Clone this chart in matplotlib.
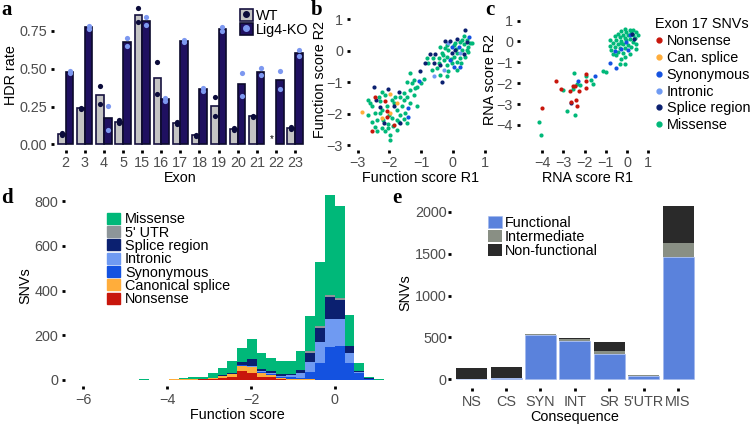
import numpy as np
import matplotlib.pyplot as plt
from matplotlib.patches import Patch
from matplotlib.lines import Line2D

plt.rcParams['font.family'] = ['Liberation Sans', 'DejaVu Sans']

# ---------------- data ----------------
# a: HDR rate per exon, two replicates (WT has no data for exon 22)
exons = ['2', '3', '4', '5', '15', '16', '17', '18', '19', '20', '21', '22', '23']
wt_rep1 = [0.073, 0.240, 0.386, 0.161, 0.900, 0.547, 0.148, 0.062, 0.315, 0.110, 0.190, np.nan, 0.117]
wt_rep2 = [0.062, 0.234, 0.265, 0.139, 0.812, 0.333, 0.137, 0.055, 0.190, 0.095, 0.180, np.nan, 0.100]
ko_rep1 = [0.485, 0.785, 0.254, 0.706, 0.840, 0.309, 0.693, 0.375, 0.774, 0.474, 0.503, 0.488, 0.624]
ko_rep2 = [0.474, 0.763, 0.097, 0.653, 0.790, 0.287, 0.677, 0.355, 0.752, 0.320, 0.459, 0.364, 0.585]

# b: function score replicate 1 vs replicate 2
b_missense = [(0.34, 0.46), (0.23, 0.28), (-0.19, 0.18), (0.02, 0.18), (0.36, 0.21), (0.55, 0.23),
              (0.28, 0.02), (0.44, 0.02), (0.13, -0.08), (0.49, -0.03), (-0.14, 0.02), (-0.35, -0.08),
              (-0.19, -0.19), (0.02, -0.21), (0.23, -0.24), (0.39, -0.19), (0.13, -0.35), (-0.29, -0.30),
              (-0.45, -0.24), (-0.03, -0.40), (-0.19, -0.45), (-0.77, -0.40), (-0.50, -0.56), (-0.14, -0.66),
              (-0.19, -0.82), (-0.40, -0.77), (-0.66, -0.61), (0.13, -0.61), (-0.24, 0.07), (-0.40, 0.13),
              (0.47, 0.13), (0.60, 0.25), (0.08, 0.25), (-0.63, -0.24), (-0.82, -0.24), (0.30, 0.35),
              (0.10, 0.05), (-0.30, -0.15), (0.45, 0.35), (-0.05, -0.25), (0.25, -0.40), (-0.45, -0.40),
              (-1.34, -0.70), (-1.24, -0.93), (-0.90, -0.91), (-1.01, -1.03), (-1.13, -1.14), (-1.29, -1.03),
              (-1.45, -1.01), (-1.66, -1.46), (-2.24, -1.30), (-2.13, -1.40), (-1.55, -1.33), (-1.34, -1.24),
              (-1.19, -1.19), (-1.24, -1.40), (-1.45, -1.46), (-2.66, -1.56), (-2.29, -1.61), (-1.92, -1.56),
              (-1.55, -1.56), (-1.34, -1.67), (-1.13, -1.77), (-2.08, -1.77), (-2.55, -1.77), (-2.66, -2.04),
              (-2.45, -1.98), (-2.24, -1.88), (-1.76, -1.88), (-1.66, -2.04), (-1.50, -1.98), (-1.92, -2.14),
              (-1.76, -2.19), (-1.55, -2.17), (-2.39, -2.19), (-2.55, -2.25), (-2.03, -2.32), (-2.24, -2.46),
              (-2.45, -2.41), (-2.03, -2.46), (-1.76, -2.51), (-2.39, -2.56), (-2.13, -2.56), (-1.97, -2.67),
              (-1.99, -2.83), (-1.71, -2.25), (-1.45, -2.30), (-2.29, -1.98), (-2.60, -1.67), (-1.82, -1.46),
              (-2.34, -1.46), (-1.85, -1.65), (-2.00, -2.05), (-1.60, -1.75), (-2.20, -2.20), (-1.90, -2.40)]
b_splice = [(0.37, 0.65), (0.13, 0.36), (0.44, 0.28), (-0.08, 0.32), (-0.24, 0.32), (0.07, 0.02),
            (-0.03, -0.08), (0.34, -0.11), (-0.40, -0.45), (-0.61, -0.40), (-0.71, -0.11), (-0.56, -0.11),
            (-0.35, -0.98), (-0.87, -0.40), (-1.05, -0.64), (-2.48, -1.14), (-2.03, -1.21), (-1.71, -1.30),
            (-2.41, -1.58), (-1.87, -1.77), (-2.29, -1.79), (-2.18, -2.30), (-1.66, -2.28)]
b_syn = [(0.52, 0.44), (0.18, 0.13), (0.02, -0.51), (0.23, -0.51), (-0.08, -0.30), (-0.03, 0.13),
         (-1.08, -0.96), (-1.40, -2.09), (-1.40, -1.82)]
b_intronic = [(-0.29, -0.61), (-0.61, -0.82), (0.21, -0.08), (-0.14, 0.25)]
b_canon = [(-1.97, -1.37), (-1.76, -1.65), (-2.87, -1.93), (-1.97, -1.98), (-2.24, -2.14)]
b_nonsense = [(-2.45, -1.46), (-2.13, -1.59), (-2.06, -1.91), (-2.08, -2.09), (-1.87, -2.35), (-2.55, -2.56)]

# c: RNA score replicate 1 vs replicate 2 (exon 17)
c_missense = [(-0.11, 0.61), (0.13, 0.56), (0.28, 0.53), (-0.27, 0.49), (-0.03, 0.45), (-0.42, 0.37),
              (-0.19, 0.33), (0.20, 0.41), (0.44, 0.45), (-0.58, 0.24), (-0.35, 0.21), (-0.11, 0.18),
              (0.13, 0.13), (0.36, 0.18), (-0.50, 0.08), (-0.27, 0.02), (-0.03, 0.05), (0.28, -0.03),
              (-0.66, -0.08), (-0.42, -0.11), (-0.19, -0.14), (0.05, -0.19), (0.44, -0.11), (-0.82, -0.24),
              (-0.58, -0.27), (-0.35, -0.32), (-0.11, -0.30), (0.20, -0.27), (-0.74, -0.43), (-0.42, -0.51),
              (-0.19, -0.56), (0.13, -0.59), (0.44, -0.35), (-0.50, -0.67), (-0.11, -0.75), (-0.82, 0.05),
              (0.52, 0.29), (-0.66, -0.59), (-0.27, -0.83), (0.05, 0.30), (-0.30, -0.10), (0.30, 0.30),
              (-0.35, -1.10), (-0.11, -1.10), (-1.13, -1.42), (-1.01, -1.47), (-1.92, -1.67), (-1.68, -1.87),
              (-1.60, -2.06), (-2.52, -1.50), (-2.23, -2.11), (-2.55, -2.26), (-3.02, -2.34), (-2.83, -3.33),
              (-2.47, -3.54), (-4.15, -3.86), (-4.04, -4.50), (-2.34, -2.06)]
c_syn = [(-0.57, -0.46), (-0.27, -0.37), (0.06, -0.43), (-0.03, -0.03), (0.16, 0.32),
         (-0.82, -1.04), (-0.53, -1.28), (-1.53, -1.64), (-2.31, -1.91)]
c_splice = [(0.25, 0.37), (0.33, 0.13), (-2.66, -2.95)]
c_intronic = []
c_canon = []
c_nonsense = [(-1.92, -1.55), (-1.92, -1.90), (-1.95, -2.25), (-2.26, -2.38), (-2.47, -2.15), (-2.55, -2.14),
              (-2.70, -2.38), (-3.13, -2.26), (-3.36, -1.90), (-2.63, -2.90), (-2.39, -2.82), (-2.36, -3.09),
              (-3.99, -3.19)]

# d: histogram of function scores (counts per bin, 32 bins)
bin_start = -6.06
bin_width = 0.233
h_nonsense = [0, 0, 0, 0, 0, 0, 0, 0, 0, 1, 2, 2, 3, 6, 10, 15, 38, 33, 15, 12, 3, 2, 1, 1, 0, 0, 0, 0, 0, 0, 0, 0]
h_canon = [0, 0, 0, 0, 0, 0, 0, 0, 0, 2, 2, 3, 3, 4, 8, 12, 24, 24, 15, 10, 7, 3, 2, 2, 2, 2, 2, 0, 0, 0, 0, 0]
h_syn = [0, 1, 0, 0, 0, 0, 2, 0, 0, 0, 0, 0, 0, 0, 1, 1, 3, 3, 4, 5, 5, 8, 4, 34, 73, 147, 150, 77, 30, 4, 0, 0]
h_intronic = [0, 0, 0, 0, 0, 0, 0, 0, 0, 0, 0, 0, 0, 0, 0, 1, 2, 3, 4, 4, 4, 8, 23, 45, 96, 122, 119, 45, 4, 0, 0, 0]
h_splice = [0, 0, 0, 0, 0, 0, 0, 0, 0, 0, 0, 0, 0, 0, 2, 4, 14, 29, 11, 9, 6, 7, 15, 40, 60, 99, 88, 30, 5, 3, 0, 0]
h_utr = [0, 0, 0, 0, 0, 0, 0, 0, 0, 0, 0, 0, 0, 0, 0, 0, 0, 0, 0, 0, 0, 0, 0, 6, 9, 8, 6, 0, 0, 0, 0, 0]
h_missense = [1, 1, 1, 1, 1, 1, 1, 1, 1, 1, 3, 7, 9, 20, 34, 52, 61, 91, 73, 60, 61, 58, 86, 158, 286, 450, 414,
              140, 36, 5, 3, 1]

# e: SNVs per consequence
consequences = ['NS', 'CS', 'SYN', 'INT', 'SR', "5'UTR", 'MIS']
functional = [0, 10, 525, 453, 306, 45, 1463]
intermediate = [2, 5, 12, 24, 32, 2, 167]
nonfunctional = [133, 128, 8, 12, 103, 1, 442]

# colours
col_nonsense = '#c8160c'
col_canon = '#ffad3b'
col_syn = '#1452e0'
col_intronic = '#6f9af2'
col_splice = '#0b2070'
col_utr = '#8d9599'
col_missense = '#00b879'
tick_grey = '#4d4d4d'
fs = 10.4


def style(ax):
    for s in ax.spines.values():
        s.set_visible(False)
    ax.tick_params(length=2, width=2, color='black', labelcolor=tick_grey, labelsize=fs, pad=3)


fig = plt.figure(figsize=(7.5, 4.24), dpi=100)

# ---------------- a ----------------
axa = fig.add_axes([0.0723, 0.6455, 0.3364, 0.3527])
pos = np.arange(len(exons))
wt1, wt2 = np.array(wt_rep1), np.array(wt_rep2)
ko1, ko2 = np.array(ko_rep1), np.array(ko_rep2)
ok = ~np.isnan(wt1)
axa.bar(pos[ok] - 0.2, ((wt1 + wt2) / 2)[ok], 0.4, color='#c4c4c4', edgecolor='#16123f', lw=1.2)
axa.bar(pos + 0.2, (ko1 + ko2) / 2, 0.4, color='#1f1060', edgecolor='#0c0a2c', lw=1.2)
for r in (wt1, wt2):
    axa.scatter(pos[ok] - 0.2, r[ok], s=14, color='#0b0b3b', lw=0, zorder=3)
for r in (ko1, ko2):
    axa.scatter(pos + 0.2, r, s=14, color='#7d98f0', lw=0, zorder=3)
axa.text(pos[~ok][0] - 0.2, 0.0, '*', ha='center', va='bottom', fontsize=7)
axa.set_xlim(-0.6, len(exons) - 0.4)
axa.set_ylim(-0.04, 0.95)
axa.set_xticks(pos)
axa.set_xticklabels(exons)
axa.set_yticks([0, 0.25, 0.5, 0.75])
axa.set_yticklabels(['0.00', '0.25', '0.50', '0.75'])
axa.set_xlabel('Exon', fontsize=fs, labelpad=1)
axa.set_ylabel('HDR rate', fontsize=fs, labelpad=1)
style(axa)
axa.tick_params(axis='x', pad=2)
leg_a = [(Patch(fc='#c4c4c4', ec='#16123f', lw=1.2), Line2D([], [], marker='o', ls='', color='#0b0b3b', ms=4)),
         (Patch(fc='#1f1060', ec='#0c0a2c', lw=1.2), Line2D([], [], marker='o', ls='', color='#7d98f0', ms=4))]
axa.legend(leg_a, ['WT', 'Lig4-KO'], loc='upper left', bbox_to_anchor=(0.735, 0.948), frameon=False,
           fontsize=fs, handlelength=0.9, handleheight=0.9, handletextpad=0.2, labelspacing=0.0,
           borderpad=0, borderaxespad=0)

# ---------------- b ----------------
axb = fig.add_axes([0.4667, 0.6462, 0.188, 0.3349])
for pts, col in [(b_missense, col_missense), (b_intronic, col_intronic), (b_syn, col_syn),
                 (b_splice, col_splice), (b_canon, col_canon), (b_nonsense, col_nonsense)]:
    if pts:
        p = np.array(pts)
        axb.scatter(p[:, 0], p[:, 1], s=9, color=col, lw=0)
axb.set_xlim(-3.24, 1.2)
axb.set_ylim(-3.15, 1.35)
axb.set_xticks([-3, -2, -1, 0, 1])
axb.set_yticks([-3, -2, -1, 0, 1])
axb.set_xlabel('Function score R1', fontsize=fs, labelpad=1)
axb.set_ylabel('Function score R2', fontsize=fs, labelpad=0)
style(axb)
axb.tick_params(axis='x', pad=2)

# ---------------- c ----------------
axc = fig.add_axes([0.6933, 0.6462, 0.1809, 0.3325])
for pts, col in [(c_missense, col_missense), (c_intronic, col_intronic), (c_syn, col_syn),
                 (c_splice, col_splice), (c_canon, col_canon), (c_nonsense, col_nonsense)]:
    if pts:
        p = np.array(pts)
        axc.scatter(p[:, 0], p[:, 1], s=9, color=col, lw=0)
axc.set_xlim(-5.05, 1.35)
axc.set_ylim(-5.2, 1.55)
axc.set_xticks([-4, -3, -2, -1, 0, 1])
axc.set_yticks([-4, -3, -2, -1, 0, 1])
axc.set_xlabel('RNA score R1', fontsize=fs, labelpad=1)
axc.set_ylabel('RNA score R2', fontsize=fs, labelpad=0)
style(axc)
axc.tick_params(axis='x', pad=2)
c_names = ['Nonsense', 'Can. splice', 'Synonymous', 'Intronic', 'Splice region', 'Missense']
c_cols = [col_nonsense, col_canon, col_syn, col_intronic, col_splice, col_missense]
handles_c = [Line2D([], [], marker='o', ls='', color=c, ms=3.5) for c in c_cols]
legc = axc.legend(handles_c, c_names, title='Exon 17 SNVs', loc='upper left',
                  bbox_to_anchor=(655 / 750, 1 - 17 / 424), bbox_transform=fig.transFigure,
                  frameon=False, fontsize=fs, title_fontsize=fs, handlelength=0.5, handletextpad=0.3,
                  labelspacing=0.2, borderpad=0, borderaxespad=0, alignment='left')

# ---------------- d ----------------
axd = fig.add_axes([0.0871, 0.0906, 0.4583, 0.4722])
edges = bin_start + bin_width * np.arange(len(h_missense))
bottom = np.zeros(len(h_missense))
d_layers = [(h_nonsense, col_nonsense, 'Nonsense'), (h_canon, col_canon, 'Canonical splice'),
            (h_syn, col_syn, 'Synonymous'), (h_intronic, col_intronic, 'Intronic'),
            (h_splice, col_splice, 'Splice region'), (h_utr, col_utr, "5' UTR"),
            (h_missense, col_missense, 'Missense')]
d_handles = []
for vals, col, name in d_layers:
    axd.bar(edges, vals, bin_width, bottom=bottom, align='edge', color=col, lw=0)
    bottom += np.array(vals)
    d_handles.append(Patch(color=col, label=name))
axd.set_xlim(-6.43, 1.77)
axd.set_ylim(-25, 870)
axd.set_xticks([-6, -4, -2, 0])
axd.set_yticks([0, 200, 400, 600, 800])
axd.set_xlabel('Function score', fontsize=fs, labelpad=1)
axd.set_ylabel('SNVs', fontsize=fs, labelpad=2)
style(axd)
axd.legend(handles=d_handles[::-1], loc='upper left', bbox_to_anchor=(0.121, 0.865), frameon=False,
           fontsize=fs, handlelength=0.9, handleheight=0.8, handletextpad=0.35, labelspacing=-0.05,
           borderpad=0, borderaxespad=0)

# ---------------- e ----------------
axe = fig.add_axes([0.6013, 0.0849, 0.3304, 0.4505])
xe = np.arange(1, len(consequences) + 1)
f = np.array(functional)
i = np.array(intermediate)
n = np.array(nonfunctional)
axe.bar(xe, f, 0.9, color='#5a82dc', edgecolor='#9fb6ee', lw=0.4, label='Functional')
axe.bar(xe, i, 0.9, bottom=f, color='#898f84', lw=0, label='Intermediate')
axe.bar(xe, n, 0.9, bottom=f + i, color='#2a2a2a', lw=0, label='Non-functional')
axe.set_xlim(0.4, 7.6)
axe.set_ylim(-104, 2176)
axe.set_xticks(xe)
axe.set_xticklabels(consequences)
axe.set_yticks([0, 500, 1000, 1500, 2000])
axe.set_xlabel('Consequence', fontsize=fs, labelpad=1)
axe.set_ylabel('SNVs', fontsize=fs, labelpad=2)
style(axe)
axe.tick_params(axis='y', pad=1)
axe.legend(loc='upper left', bbox_to_anchor=(0.149, 0.9), frameon=False, fontsize=fs,
           handlelength=0.95, handleheight=0.9, handletextpad=0.2, labelspacing=0.0,
           borderpad=0, borderaxespad=0)

# panel letters
for lab, x, y in [('a', 1, 15), ('b', 311, 15), ('c', 485, 15), ('d', 1, 203), ('e', 392, 203)]:
    fig.text(x / 750, 1 - y / 424, lab, fontfamily='Liberation Serif', fontweight='bold', fontsize=15,
             va='baseline', ha='left')

fig.savefig('out.png', dpi=100)
